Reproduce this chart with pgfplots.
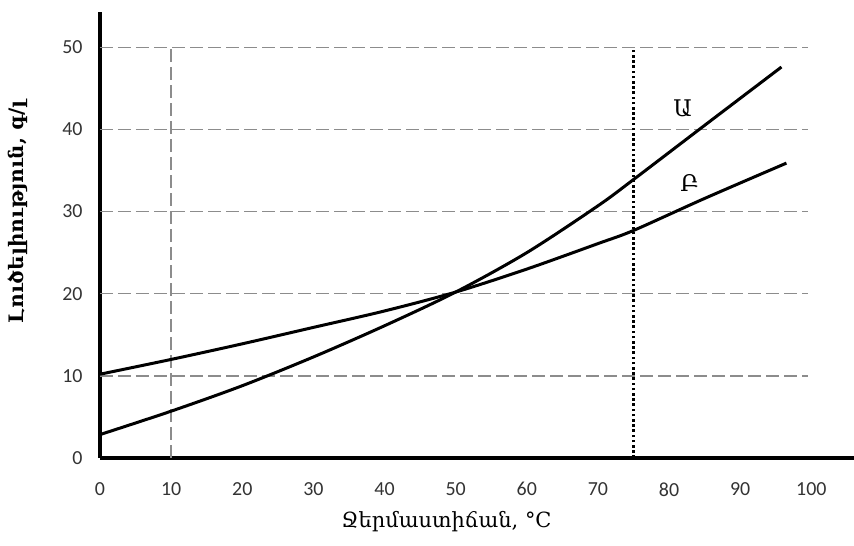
\documentclass[border=0pt]{standalone}
\usepackage{fontspec}
\setmainfont{Carlito}
\newfontfamily\arm{DejaVu Serif}
\usepackage{pgfplots}
\pgfplotsset{compat=1.18}
\begin{document}
\begin{tikzpicture}[x=1bp,y=1bp]
\path[use as bounding box] (-100,-88) rectangle (754,458);
\begin{axis}[
  at={(0,0)}, anchor=south west,
  scale only axis, width=754bp, height=446bp,
  xmin=0, xmax=106, ymin=0, ymax=54.3,
  axis lines=left,
  axis line style={-, line width=4bp, black},
  xtick={0,10,...,100}, ytick={0,10,...,50},
  major tick length=0pt,
  tick label style={font=\fontsize{20}{22}\selectfont, text=black!80},
  /pgf/number format/assume math mode=true,
  xticklabel style={yshift=-21bp},
  yticklabel style={xshift=-14bp},
  clip=false,
]
\addplot[gray!90, line width=1.5bp, dash pattern=on 13bp off 5bp] coordinates {(0,10)(99.5,10)};
\addplot[gray!90, line width=1.5bp, dash pattern=on 13bp off 5bp] coordinates {(0,20)(99.5,20)};
\addplot[gray!90, line width=1.5bp, dash pattern=on 13bp off 5bp] coordinates {(0,30)(99.5,30)};
\addplot[gray!90, line width=1.5bp, dash pattern=on 13bp off 5bp] coordinates {(0,40)(99.5,40)};
\addplot[gray!90, line width=1.5bp, dash pattern=on 13bp off 5bp] coordinates {(0,50)(99.5,50)};
\addplot[gray!90, line width=1.5bp, dash pattern=on 13bp off 5bp] coordinates {(10,0)(10,50)};
\addplot[black, line width=3bp, dash pattern=on 2.6bp off 2.6bp] coordinates {(75,0)(75,50)};
% curve A
\addplot[black, line width=3bp, smooth] coordinates {
(0,2.85)(10,5.7)(20,8.8)(30,12.3)(40,16.1)(50,20.2)(60,25.0)(70,30.7)(75,33.9)(85,40.5)(95.8,47.6)};
% curve B
\addplot[black, line width=3bp, smooth] coordinates {
(0,10.2)(10,12.0)(20,13.9)(30,15.9)(40,17.9)(50,20.2)(60,23.0)(70,26.1)(75,27.7)(85,31.6)(96.5,35.9)};
\node[font=\arm\fontsize{23}{25}\selectfont] at (axis cs:81.9,42.6) {Ա};
\node[font=\arm\fontsize{23}{25}\selectfont] at (axis cs:82.9,33.5) {Բ};
\node[font=\arm\bfseries\fontsize{20}{22}\selectfont, rotate=90] at (axis cs:-11.5,30) {Լուծելիություն, գ/լ};
\node[font=\arm\fontsize{21}{24}\selectfont] at (axis cs:48.7,-7.8) {Ջերմաստիճան, °C};
\end{axis}
\end{tikzpicture}
\end{document}
